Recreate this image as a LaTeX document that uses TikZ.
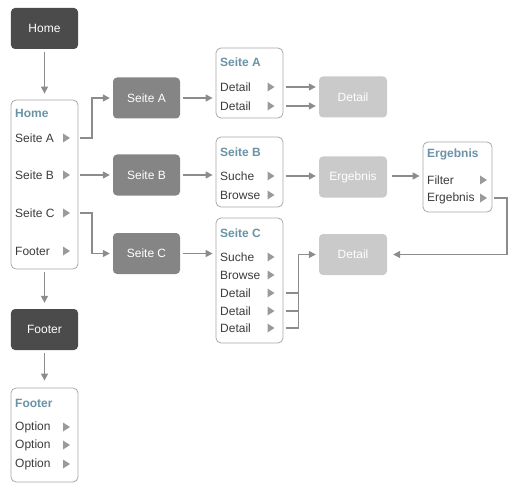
\documentclass[tikz,border=0pt]{standalone}
\usepackage{fontspec}
\setmainfont{Liberation Sans}
\usetikzlibrary{arrows.meta}
\definecolor{darkfill}{HTML}{4B4B4B}
\definecolor{midfill}{HTML}{858585}
\definecolor{lightfill}{HTML}{CACACA}
\definecolor{bordercol}{HTML}{A8A8A8}
\definecolor{titlecol}{HTML}{6A93A8}
\definecolor{itemcol}{HTML}{3C3C3C}
\definecolor{linecol}{HTML}{8C8C8C}
\definecolor{tricol}{HTML}{9A9A9A}
\begin{document}
\begin{tikzpicture}[x=1bp,y=-1bp,
  every node/.style={font=\fontsize{12bp}{14bp}\selectfont},
  boxbase/.style={rounded corners=4bp, minimum width=67bp, minimum height=41bp, inner sep=0, text=white},
  darkbox/.style={boxbase, fill=darkfill},
  midbox/.style={boxbase, fill=midfill},
  lightbox/.style={boxbase, fill=lightfill},
  listbox/.style={draw=bordercol, line width=0.8bp, rounded corners=5bp, fill=white, inner sep=0},
  titletext/.style={anchor=west, inner sep=0, text=titlecol, font=\fontsize{12bp}{14bp}\selectfont\bfseries},
  itemtext/.style={anchor=west, inner sep=0, text=itemcol},
  tri/.style={minimum width=7bp, minimum height=9bp, inner sep=0, outer sep=0,
    path picture={\fill[tricol] (path picture bounding box.north west) -- (path picture bounding box.east) -- (path picture bounding box.south west) -- cycle;}},
  line/.style={draw=linecol, line width=1.3bp},
  conn/.style={line, -{Triangle[length=7bp,width=7bp]}}
]
\useasboundingbox (0,0) rectangle (514,492);

% dark boxes
\node[darkbox] (home) at (44.5,28.5) {Home};
\node[darkbox] (footer) at (44.5,329.5) {Footer};

% home list
\node[listbox, minimum width=67bp, minimum height=169bp] (hl) at (44.5,184.5) {};
\node[titletext] (hlT) at (15,113) {Home};
\node[itemtext] (hlA) at (15,138) {Seite A};
\node[itemtext] (hlB) at (15,175) {Seite B};
\node[itemtext] (hlC) at (15,213) {Seite C};
\node[itemtext] (hlF) at (15,251) {Footer};
\node[tri] (hlAt) at (66.5,138) {};
\node[tri] (hlBt) at (66.5,175) {};
\node[tri] (hlCt) at (66.5,213) {};
\node[tri] (hlFt) at (66.5,251) {};

% footer list
\node[listbox, minimum width=67bp, minimum height=94bp] (fl) at (44.5,435) {};
\node[titletext] (flT) at (15,403) {Footer};
\node[itemtext] (flO1) at (15,427) {Option};
\node[itemtext] (flO2) at (15,445) {Option};
\node[itemtext] (flO3) at (15,464) {Option};
\node[tri] (flO1t) at (66.5,427) {};
\node[tri] (flO2t) at (66.5,445) {};
\node[tri] (flO3t) at (66.5,464) {};

% mid boxes
\node[midbox] (sa) at (146.5,98) {Seite A};
\node[midbox] (sb) at (146.5,175) {Seite B};
\node[midbox] (sc) at (146.5,253.5) {Seite C};

% Seite A list
\node[listbox, minimum width=67bp, minimum height=70bp] (sal) at (249.5,83) {};
\node[titletext] (salT) at (220,62) {Seite A};
\node[itemtext] (salD1) at (220,87) {Detail};
\node[itemtext] (salD2) at (220,106) {Detail};
\node[tri] (salD1t) at (271,87) {};
\node[tri] (salD2t) at (271,106) {};

% Seite B list
\node[listbox, minimum width=67bp, minimum height=70bp] (sbl) at (249.5,172) {};
\node[titletext] (sblT) at (220,152) {Seite B};
\node[itemtext] (sblS) at (220,176) {Suche};
\node[itemtext] (sblB) at (220,195) {Browse};
\node[tri] (sblSt) at (271,176) {};
\node[tri] (sblBt) at (271,195) {};

% Seite C list
\node[listbox, minimum width=67bp, minimum height=125bp] (scl) at (249.5,280.5) {};
\node[titletext] (sclT) at (220,233) {Seite C};
\node[itemtext] (sclS) at (220,257) {Suche};
\node[itemtext] (sclB) at (220,275) {Browse};
\node[itemtext] (sclD1) at (220,293) {Detail};
\node[itemtext] (sclD2) at (220,311) {Detail};
\node[itemtext] (sclD3) at (220,328) {Detail};
\node[tri] (sclSt) at (271,257) {};
\node[tri] (sclBt) at (271,275) {};
\node[tri] (sclD1t) at (271,293) {};
\node[tri] (sclD2t) at (271,311) {};
\node[tri] (sclD3t) at (271,328) {};

% light boxes
\node[lightbox, minimum width=68bp] (d1) at (353,97) {Detail};
\node[lightbox, minimum width=68bp] (erg) at (353,177) {Ergebnis};
\node[lightbox, minimum width=68bp] (d2) at (353,254.5) {Detail};

% Ergebnis list
\node[listbox, minimum width=69bp, minimum height=70bp] (el) at (457.5,177) {};
\node[titletext] (elT) at (427,154) {Ergebnis};
\node[itemtext] (elF) at (427,180) {Filter};
\node[itemtext] (elE) at (427,198) {Ergebnis};
\node[tri] (elFt) at (483.5,180) {};
\node[tri] (elEt) at (483.5,198) {};

% connectors
\draw[conn, shorten <=3bp, shorten >=6bp] (home.south) -- (hl.north);
\draw[conn, shorten <=3bp, shorten >=6bp] (hl.south) -- (footer.north);
\draw[conn, shorten <=3bp, shorten >=7bp] (footer.south) -- (fl.north);

\draw[conn, shorten >=3bp] ([xshift=10bp]hlAt.east) -- ++(12,0) |- (sa.west);
\draw[conn, shorten >=3bp] ([xshift=10bp]hlBt.east) -- (hlBt.east -| sb.west);
\draw[conn, shorten >=3bp] ([xshift=10bp]hlCt.east) -- ++(12,0) |- (sc.west);

\draw[conn, shorten <=3bp, shorten >=3bp] (sa.east) -- (sa.east -| sal.west);
\draw[conn, shorten <=3bp, shorten >=3bp] (sb.east) -- (sb.east -| sbl.west);
\draw[conn, shorten <=3bp, shorten >=3bp] (sc.east) -- (sc.east -| scl.west);

\draw[conn, shorten >=3bp] ([xshift=11bp]salD1t.east) -- (salD1t.east -| d1.west);
\draw[conn, shorten >=3bp] ([xshift=11bp]salD2t.east) -- (salD2t.east -| d1.west);
\draw[conn, shorten >=3bp] ([xshift=11bp]sblSt.east) -- (sblSt.east -| erg.west);
\draw[conn, shorten <=5bp, shorten >=3bp] (erg.east |- sblSt.east) -- (el.west |- sblSt.east);

\draw[conn, shorten >=6bp] ([xshift=7bp]elEt.east) -- ++(13,0) |- (d2.east);

\draw[line] ([xshift=11bp]sclD1t.east) -- ++(13,0);
\draw[line] ([xshift=11bp]sclD2t.east) -- ++(13,0);
\draw[conn, shorten >=3bp] ([xshift=11bp]sclD3t.east) -- ++(13,0) |- (d2.west);
\end{tikzpicture}
\end{document}
